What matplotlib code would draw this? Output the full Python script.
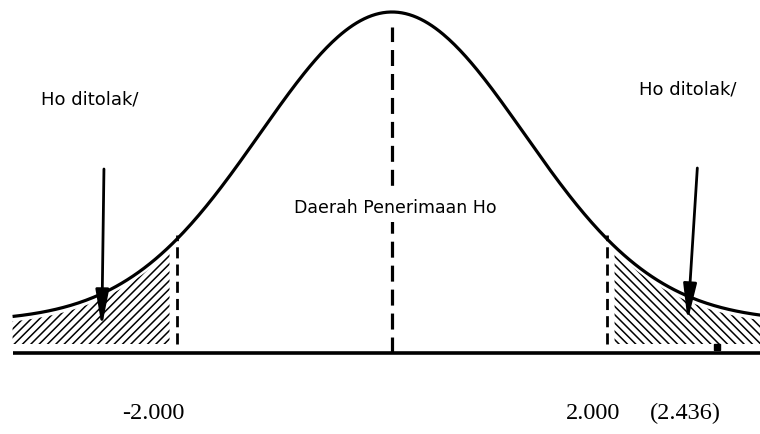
import numpy as np
import matplotlib.pyplot as plt

plt.rcParams['hatch.linewidth'] = 1.1

# uji t dua arah
t_kritis = [-2.000, 2.000]
t_hitung = 2.436
label_bawah = ['-2.000', '2.000', '(2.436)']
posisi_label = [-2.22, 1.87, 2.73]
teks_tolak = 'Ho ditolak/'
teks_terima = 'Daerah Penerimaan Ho'

# bentuk kurva lonceng (tinggi dalam satuan gambar)
puncak = 341
dasar = 31.5
sebaran = 1.23
x_kiri, x_kanan = -3.53, 3.45


def kurva(t):
    return dasar + (puncak - dasar) * np.exp(-t ** 2 / (2 * sebaran ** 2))


fig = plt.figure(figsize=(7.6, 4.35), dpi=100)
ax = fig.add_axes([0, 0, 1, 1])
ax.set_xlim(-3.647, 3.423)
ax.set_ylim(-81, 354)
ax.axis('off')

t = np.linspace(x_kiri, x_kanan, 400)
ax.plot(t, kurva(t), color='black', lw=2.3, solid_capstyle='butt')

# garis dasar
ax.plot([x_kiri, x_kanan], [0, 0], color='black', lw=2.6, solid_capstyle='butt')

# daerah penolakan (arsir)
tk = np.linspace(x_kiri, t_kritis[0] - 0.07, 100)
ax.fill_between(tk, 9, kurva(tk) - 5, facecolor='none', edgecolor='black',
                hatch='////', lw=0)
tn = np.linspace(t_kritis[1] + 0.07, x_kanan, 100)
ax.fill_between(tn, 9, kurva(tn) - 5, facecolor='none', edgecolor='black',
                hatch='\\\\\\\\', lw=0)

# garis batas kritis dan garis tengah
for tc in t_kritis:
    ax.plot([tc, tc], [9, kurva(tc) + 4], color='black', lw=2,
            linestyle=(0, (4, 2.2)))
ax.plot([0, 0], [0, 326], color='black', lw=2.3, linestyle=(0, (5, 2.5)))

# panah ke daerah penolakan
panah = dict(arrowstyle='-|>,head_length=1.1,head_width=0.2', lw=2,
             color='black', mutation_scale=20, shrinkA=0, shrinkB=0)
ax.annotate('', xy=(-2.70, 26), xytext=(-2.68, 184), arrowprops=panah)
ax.annotate('', xy=(2.75, 32), xytext=(2.84, 185), arrowprops=panah)

ax.plot(3.02, 6, 's', ms=4.5, color='black')

# teks
ax.text(-2.81, 254, teks_tolak, ha='center', va='center', fontsize=13,
        family='DejaVu Sans')
ax.text(2.75, 264, teks_tolak, ha='center', va='center', fontsize=13,
        family='DejaVu Sans')
ax.text(0.03, 146, teks_terima, ha='center', va='center', fontsize=12.5,
        family='DejaVu Sans',
        bbox=dict(facecolor='white', edgecolor='none', pad=4))

for lab, px in zip(label_bawah, posisi_label):
    ax.text(px, -65, lab, ha='center', va='baseline', fontsize=17.5,
            family='Liberation Serif')

fig.savefig('out.png', dpi=100)
